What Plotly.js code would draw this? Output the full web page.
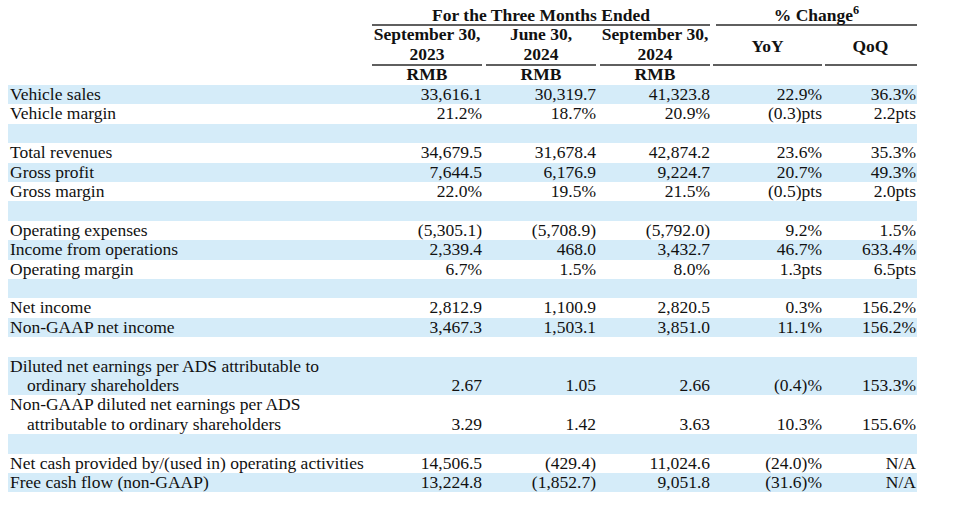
<!DOCTYPE html>
<html><head><meta charset="utf-8">
<script src="https://cdn.plot.ly/plotly-3.0.1.min.js"></script>
<style>html,body{margin:0;padding:0;background:#fff}#chart{width:960px;height:528px}</style>
</head><body><div id="chart"></div>
<script>
// ---------------- data ----------------
const rowLabels = [
  "Vehicle sales", "Vehicle margin", "",
  "Total revenues", "Gross profit", "Gross margin", "",
  "Operating expenses", "Income from operations", "Operating margin", "",
  "Net income", "Non-GAAP net income", "",
  "Diluted net earnings per ADS attributable to\nordinary shareholders",
  "Non-GAAP diluted net earnings per ADS\nattributable to ordinary shareholders", "",
  "Net cash provided by/(used in) operating activities", "Free cash flow (non-GAAP)"
];
const sep2023 = [33616.1, 21.2, null, 34679.5, 7644.5, 22.0, null, -5305.1, 2339.4, 6.7, null, 2812.9, 3467.3, null, 2.67, 3.29, null, 14506.5, 13224.8];
const jun2024 = [30319.7, 18.7, null, 31678.4, 6176.9, 19.5, null, -5708.9, 468.0, 1.5, null, 1100.9, 1503.1, null, 1.05, 1.42, null, -429.4, -1852.7];
const sep2024 = [41323.8, 20.9, null, 42874.2, 9224.7, 21.5, null, -5792.0, 3432.7, 8.0, null, 2820.5, 3851.0, null, 2.66, 3.63, null, 11024.6, 9051.8];
const yoyChange = [22.9, -0.3, null, 23.6, 20.7, -0.5, null, 9.2, 46.7, 1.3, null, 0.3, 11.1, null, -0.4, 10.3, null, -24.0, -31.6];
const qoqChange = [36.3, 2.2, null, 35.3, 49.3, 2.0, null, 1.5, 633.4, 6.5, null, 156.2, 156.2, null, 153.3, 155.6, null, "N/A", "N/A"];
// value kind per row: amount in RMB millions, percent, per-ADS amount
const levelKind = ["rmb","pct","", "rmb","rmb","pct","", "rmb","rmb","pct","", "rmb","rmb","", "eps","eps","", "rmb","rmb"];
const changeKind = ["pct","pts","", "pct","pct","pts","", "pct","pct","pts","", "pct","pct","", "pct","pct","", "pct","pct"];
const columnHeads = ["September 30,\n2023", "June 30,\n2024", "September 30,\n2024", "YoY", "QoQ"];
const groupHeads = ["For the Three Months Ended", "% Change<sup>6</sup>"];
const currencyLabel = "RMB";

// ---------------- layout constants ----------------
const FONT = "Liberation Serif, 'Times New Roman', serif";
const FS = 17.5;
const INK = "#111111";
const BAND = "#d5ecf9";
const colLeft = [372, 486, 600, 713, 825];
const colRight = [482, 596, 710, 822, 916];
const labelX = 10, indentX = 27;
const bandLeft = 8, bandRight = 917;
const bodyTop = 85, lineH = 19.4, textDy = 0.9;
const groupLineY = 25, headLineY = 65;
const groupTextY = 17, headLinesY = [35.6, 55.6], headMidY = 47.5, currencyY = 75.6;
const groupSpans = [[372, 710], [716, 917]];

// ---------------- formatting ----------------
function commas(s) {
  const p = s.split(".");
  p[0] = p[0].replace(/\B(?=(\d{3})+(?!\d))/g, ",");
  return p.join(".");
}
function fmt(v, kind) {
  if (v === null || v === undefined) return "";
  if (typeof v === "string") return v;
  const dec = kind === "eps" ? 2 : 1;
  let s = commas(Math.abs(v).toFixed(dec));
  if (v < 0) s = "(" + s + ")";
  if (kind === "pct") s += "%";
  if (kind === "pts") s += "pts";
  return s;
}

// ---------------- geometry of rows ----------------
const rowLines = rowLabels.map(l => l.split("\n").length);
const rowTops = [];
let acc = bodyTop;
rowLines.forEach(n => { rowTops.push(acc); acc += n * lineH; });

const traces = [];

// row bands (every other row, starting with the first)
const bandY = [], bandH = [];
rowLabels.forEach((l, i) => {
  if (i % 2 === 0) { bandY.push(rowTops[i] + rowLines[i] * lineH / 2); bandH.push(rowLines[i] * lineH); }
});
traces.push({
  type: "bar", orientation: "h", y: bandY, x: bandY.map(() => bandRight - bandLeft),
  base: bandLeft, width: bandH, marker: {color: BAND, line: {width: 0}}, hoverinfo: "skip"
});

// header rules
const rx = [], ry = [];
groupSpans.forEach(s => { rx.push(s[0], s[1], null); ry.push(groupLineY, groupLineY, null); });
colLeft.forEach((l, i) => { rx.push(l, i === 4 ? bandRight : colRight[i], null); ry.push(headLineY, headLineY, null); });
traces.push({type: "scatter", mode: "lines", x: rx, y: ry, line: {color: "#2a2a2a", width: 1.4}, hoverinfo: "skip"});

// header texts
const hx = [], hy = [], ht = [];
groupHeads.forEach((g, i) => { hx.push((groupSpans[i][0] + groupSpans[i][1]) / 2); hy.push(groupTextY); ht.push("<b>" + g + "</b>"); });
columnHeads.forEach((c, i) => {
  const lines = c.split("\n");
  const cx = (colLeft[i] + colRight[i]) / 2;
  if (lines.length === 1) { hx.push(cx); hy.push(headMidY); ht.push("<b>" + lines[0] + "</b>"); }
  else lines.forEach((t, k) => { hx.push(cx); hy.push(headLinesY[k]); ht.push("<b>" + t + "</b>"); });
  if (i < 3) { hx.push(cx); hy.push(currencyY); ht.push("<b>" + currencyLabel + "</b>"); }
});
traces.push({type: "scatter", mode: "text", x: hx, y: hy, text: ht, textposition: "middle center",
  textfont: {family: FONT, size: FS, color: INK}, hoverinfo: "skip", cliponaxis: false});

// row labels
const lx = [], ly = [], lt = [];
rowLabels.forEach((l, i) => {
  l.split("\n").forEach((t, k) => {
    if (!t) return;
    lx.push(k === 0 ? labelX : indentX); ly.push(rowTops[i] + (k + 0.5) * lineH + textDy); lt.push(t);
  });
});
traces.push({type: "scatter", mode: "text", x: lx, y: ly, text: lt, textposition: "middle right",
  textfont: {family: FONT, size: FS, color: INK}, hoverinfo: "skip", cliponaxis: false});

// values
const series = [sep2023, jun2024, sep2024, yoyChange, qoqChange];
series.forEach((arr, c) => {
  const vx = [], vy = [], vt = [];
  arr.forEach((v, i) => {
    const kind = c < 3 ? levelKind[i] : changeKind[i];
    const s = fmt(v, kind);
    if (!s) return;
    vx.push(colRight[c]); vy.push(rowTops[i] + (rowLines[i] - 0.5) * lineH + textDy); vt.push(s);
  });
  traces.push({type: "scatter", mode: "text", x: vx, y: vy, text: vt, textposition: "middle left",
    textfont: {family: FONT, size: FS, color: INK}, hoverinfo: "skip", cliponaxis: false});
});

const layout = {
  width: 960, height: 528,
  margin: {l: 0, r: 0, t: 0, b: 0, pad: 0},
  paper_bgcolor: "#ffffff", plot_bgcolor: "#ffffff",
  showlegend: false,
  xaxis: {range: [0, 960], visible: false, fixedrange: true},
  yaxis: {range: [528, 0], visible: false, fixedrange: true},
  bargap: 0
};
Plotly.newPlot("chart", traces, layout, {displayModeBar: false, staticPlot: true});
</script>
</body></html>
